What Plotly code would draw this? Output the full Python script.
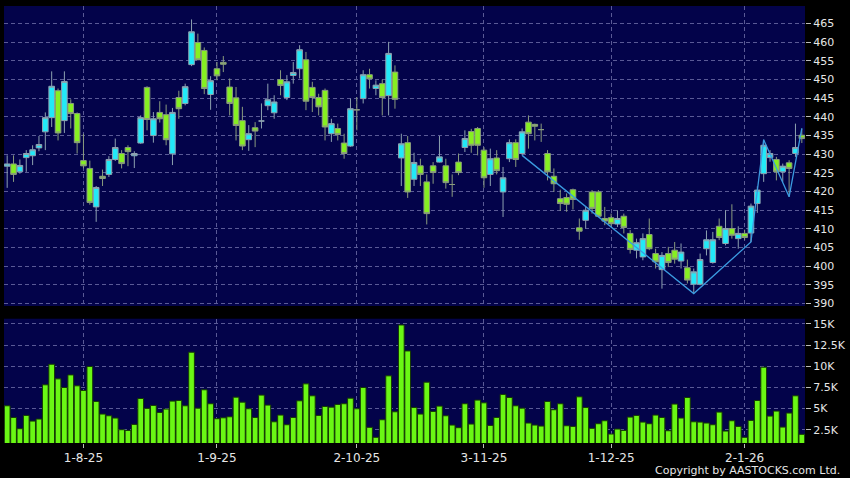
import pandas as pd
import plotly.graph_objects as go

# trading days (HK calendar), 16 Jul 2025 - 15 Jan 2026
holidays = ["2025-10-01", "2025-10-07", "2025-10-29", "2025-12-25", "2025-12-26", "2026-01-01"]
dates = [d.strftime("%Y-%m-%d") for d in pd.bdate_range("2025-07-16", "2026-01-15")
         if d.strftime("%Y-%m-%d") not in holidays]

opens = [426.8, 427.4, 425.3, 429.1, 429.6, 431.7, 436.0, 439.8, 447.0, 439.0,
         443.6, 440.9, 428.3, 426.2, 415.9, 424.1, 424.6, 428.6, 430.2, 431.8,
         429.6, 433.0, 447.9, 435.0, 441.2, 440.6, 430.1, 445.2, 443.6, 454.0,
         459.9, 457.8, 446.0, 452.9, 454.6, 448.0, 445.1, 439.0, 433.9, 437.1,
         438.9, 443.0, 441.1, 450.0, 445.2, 451.1, 452.9, 455.3, 447.9, 445.2,
         447.1, 435.5, 436.9, 433.0, 432.2, 441.9, 444.9, 451.3, 447.6, 448.9,
         445.7, 452.0, 429.0, 433.1, 423.3, 426.9, 422.6, 426.9, 427.9, 426.9,
         421.9, 427.9, 431.8, 436.1, 436.9, 431.1, 424.6, 429.0, 419.9, 428.8,
         433.1, 430.2, 438.6, 438.0, 436.6, 430.2, 424.1, 418.1, 418.4, 420.5,
         410.3, 412.3, 419.9, 419.9, 412.8, 413.0, 411.3, 413.4, 408.8, 404.3,
         402.5, 408.5, 403.4, 399.1, 403.4, 404.3, 401.4, 399.6, 395.2, 395.2,
         404.7, 401.0, 410.7, 406.1, 410.1, 407.4, 408.8, 408.9, 416.8, 424.8,
         429.1, 428.6, 425.3, 427.7, 430.2, 435.1]
highs = [429.7, 429.7, 428.6, 431.1, 432.4, 434.9, 441.2, 452.2, 447.6, 452.2,
         444.7, 441.2, 435.5, 428.3, 421.5, 425.9, 429.5, 434.2, 431.1, 432.4,
         430.8, 440.4, 448.2, 441.3, 444.2, 443.3, 442.4, 447.0, 448.9, 466.1,
         462.3, 458.6, 450.9, 454.7, 456.3, 450.3, 448.0, 442.7, 437.8, 438.6,
         443.6, 448.9, 445.8, 452.5, 451.2, 454.7, 459.2, 457.4, 449.4, 446.2,
         447.6, 439.5, 438.2, 435.5, 444.9, 445.3, 452.5, 452.9, 449.8, 450.0,
         460.1, 453.8, 435.5, 434.9, 430.4, 428.8, 424.6, 427.9, 434.9, 428.8,
         424.6, 430.2, 436.4, 436.8, 437.3, 431.9, 431.5, 431.1, 426.6, 434.0,
         434.0, 436.9, 440.4, 438.2, 438.2, 431.1, 426.2, 420.5, 419.5, 420.8,
         412.8, 415.9, 420.4, 420.4, 415.9, 414.1, 415.0, 414.1, 409.7, 407.4,
         408.8, 412.8, 404.7, 403.8, 405.2, 406.5, 406.1, 401.8, 399.4, 403.4,
         409.6, 409.2, 412.8, 415.0, 416.6, 410.7, 409.8, 416.8, 421.4, 433.9,
         431.1, 429.3, 427.5, 428.4, 438.2, 436.9]
lows = [421.0, 422.6, 424.8, 425.3, 427.1, 430.8, 431.1, 437.3, 433.7, 435.7,
        436.9, 430.2, 426.2, 416.5, 411.9, 421.5, 423.9, 428.2, 426.2, 426.8,
        426.3, 432.8, 436.4, 433.1, 438.5, 432.4, 427.1, 439.5, 443.1, 453.6,
        455.2, 446.1, 441.9, 449.8, 452.0, 440.4, 433.7, 431.1, 430.9, 431.9,
        436.9, 441.8, 439.5, 445.8, 444.5, 448.9, 450.3, 441.8, 441.3, 440.4,
        433.7, 433.3, 433.7, 428.8, 432.0, 436.4, 443.6, 447.6, 445.8, 440.4,
        440.4, 442.2, 421.5, 418.3, 421.5, 421.5, 411.2, 422.1, 427.8, 420.8,
        418.6, 424.4, 430.6, 430.4, 429.7, 421.0, 421.5, 424.6, 413.2, 427.9,
        426.6, 429.7, 431.5, 433.7, 433.3, 423.0, 419.9, 414.8, 414.6, 415.2,
        407.1, 410.1, 414.1, 413.2, 411.0, 410.5, 410.5, 408.8, 403.4, 402.1,
        401.6, 404.3, 399.4, 394.0, 399.8, 400.7, 399.4, 395.4, 392.7, 394.9,
        402.9, 400.7, 407.0, 405.6, 407.4, 404.7, 407.0, 406.5, 414.3, 422.6,
        428.0, 423.0, 422.6, 418.6, 429.3, 433.0]
closes = [427.4, 424.6, 427.0, 430.2, 431.2, 432.6, 439.8, 448.2, 435.7, 449.5,
          440.9, 433.1, 426.9, 417.1, 421.1, 423.5, 428.6, 431.8, 427.5, 430.7,
          430.2, 439.8, 439.3, 439.5, 439.5, 433.9, 441.2, 442.2, 448.1, 462.8,
          455.3, 447.6, 449.7, 451.0, 454.1, 443.6, 437.7, 432.2, 435.5, 436.2,
          438.9, 444.6, 444.0, 448.4, 449.4, 451.9, 458.0, 444.2, 445.2, 442.7,
          437.3, 438.2, 435.3, 430.2, 442.2, 441.9, 451.3, 450.2, 448.5, 445.2,
          457.0, 444.7, 432.8, 419.9, 427.8, 424.6, 414.1, 425.1, 429.3, 422.4,
          421.9, 425.1, 434.2, 432.4, 432.4, 423.7, 428.8, 425.6, 423.7, 433.1,
          428.6, 436.0, 435.5, 437.5, 436.6, 425.3, 422.1, 416.8, 416.6, 417.9,
          409.4, 415.0, 415.5, 413.4, 412.1, 411.4, 412.8, 410.4, 404.5, 406.3,
          407.4, 404.7, 401.2, 402.9, 401.0, 401.9, 403.8, 396.3, 398.5, 401.8,
          407.1, 407.1, 407.7, 410.1, 408.3, 408.8, 407.7, 416.1, 420.4, 432.4,
          430.2, 425.3, 426.8, 426.2, 431.8, 434.2]
volumes = [5330, 3950, 2620, 4190, 3520, 3760, 7810, 10240, 8510, 7490,
           8980, 7690, 7140, 9970, 5840, 4350, 4150, 3880, 2500, 2420,
           3130, 6190, 5020, 5370, 4540, 4940, 5880, 5960, 5330, 11660,
           5050, 7220, 5570, 3800, 3910, 4030, 6350, 5760, 4980, 3950,
           6590, 5410, 3440, 4230, 3090, 3950, 5920, 7920, 6510, 4190,
           5250, 5170, 5490, 5570, 6230, 4980, 7490, 2780, 1600, 3680,
           8870, 4620, 14880, 11810, 5130, 4350, 8120, 4660, 5290, 4150,
           3050, 2740, 5570, 3170, 6000, 5680, 3010, 3950, 6670, 6310,
           5330, 5050, 3290, 3050, 2930, 5840, 4860, 5570, 2970, 2890,
           6390, 5130, 2660, 3210, 3560, 1990, 2580, 2420, 3990, 4190,
           3400, 3210, 4230, 3950, 2380, 5530, 3880, 6310, 3440, 3400,
           3290, 3090, 4580, 2340, 3560, 2890, 1600, 3600, 5960, 9890,
           4110, 4700, 2810, 4470, 6510, 1950]

# zigzag overlay
zig_dates = ["2025-11-11", "2025-12-18", "2026-01-05", "2026-01-07", "2026-01-13", "2026-01-15"]
zig_prices = [429.7, 392.7, 406.5, 433.9, 418.6, 436.9]

tick_dates = ["2025-08-01", "2025-09-01", "2025-10-02", "2025-11-03", "2025-12-01", "2026-01-02"]
tick_labels = ["1-8-25", "1-9-25", "2-10-25", "3-11-25", "1-12-25", "2-1-26"]
vol_ticks = [2500, 5000, 7500, 10000, 12500, 15000]
vol_labels = ["2.5K", "5K", "7.5K", "10K", "12.5K", "15K"]

GRID = "#5a5a96"
TXT = "#e6e6e6"

fig = go.Figure()
fig.add_trace(go.Candlestick(
    x=dates, open=opens, high=highs, low=lows, close=closes,
    increasing=dict(fillcolor="#22e9f8", line=dict(color="#8ea2b0", width=1)),
    decreasing=dict(fillcolor="#86ef22", line=dict(color="#8a9c7e", width=1)),
    whiskerwidth=0, showlegend=False, xaxis="x", yaxis="y"))
fig.add_trace(go.Scatter(
    x=zig_dates, y=zig_prices, mode="lines",
    line=dict(color="#3b9be0", width=1.3), showlegend=False, xaxis="x", yaxis="y"))
fig.add_trace(go.Bar(
    x=dates, y=volumes, showlegend=False, xaxis="x2", yaxis="y2",
    marker=dict(color="#6af714", line=dict(color="#163a04", width=1))))

fig.add_annotation(text="Copyright by AASTOCKS.com Ltd.", xref="paper", yref="paper",
                   x=1.046, y=-0.063, xanchor="right", yanchor="middle", showarrow=False,
                   font=dict(family="DejaVu Sans", size=11, color=TXT))

fig.update_layout(
    width=850, height=478,
    paper_bgcolor="black", plot_bgcolor="#03034a",
    margin=dict(l=4, r=42, t=6, b=35),
    boxgap=0.12, boxgroupgap=0, bargap=0.1,
    showlegend=False,
    font=dict(family="DejaVu Sans", size=11, color=TXT),
    xaxis=dict(domain=[0, 1], anchor="y", type="category", range=[-0.5, 125.5],
               rangeslider=dict(visible=False), tickvals=tick_dates, showticklabels=False,
               showgrid=True, gridcolor=GRID, griddash="4px,3px", gridwidth=1,
               zeroline=False, showline=False),
    yaxis=dict(domain=[0.3135, 1], side="right", range=[389.36, 469.7], tick0=390, dtick=5,
               ticks="outside", ticklen=5, tickcolor="#bbbbbb",
               showgrid=True, gridcolor=GRID, griddash="4px,3px", gridwidth=1,
               zeroline=False, showline=False, tickfont=dict(size=11)),
    xaxis2=dict(domain=[0, 1], anchor="y2", matches="x", type="category",
                tickvals=tick_dates, ticktext=tick_labels,
                ticks="outside", ticklen=4, tickcolor="#bbbbbb",
                showgrid=True, gridcolor=GRID, griddash="4px,3px", gridwidth=1,
                zeroline=False, showline=False, tickfont=dict(size=12)),
    yaxis2=dict(domain=[0, 0.2844], side="right", range=[930, 15620],
                tickvals=vol_ticks, ticktext=vol_labels,
                ticks="outside", ticklen=5, tickcolor="#bbbbbb",
                showgrid=True, gridcolor=GRID, griddash="4px,3px", gridwidth=1,
                zeroline=False, showline=False, tickfont=dict(size=11)),
)

# page body has a default 8px margin; drop it so the figure sits at the window corner
fig.write_html("out.html", config={"displayModeBar": False},
               post_script="document.body.style.margin='0';")
